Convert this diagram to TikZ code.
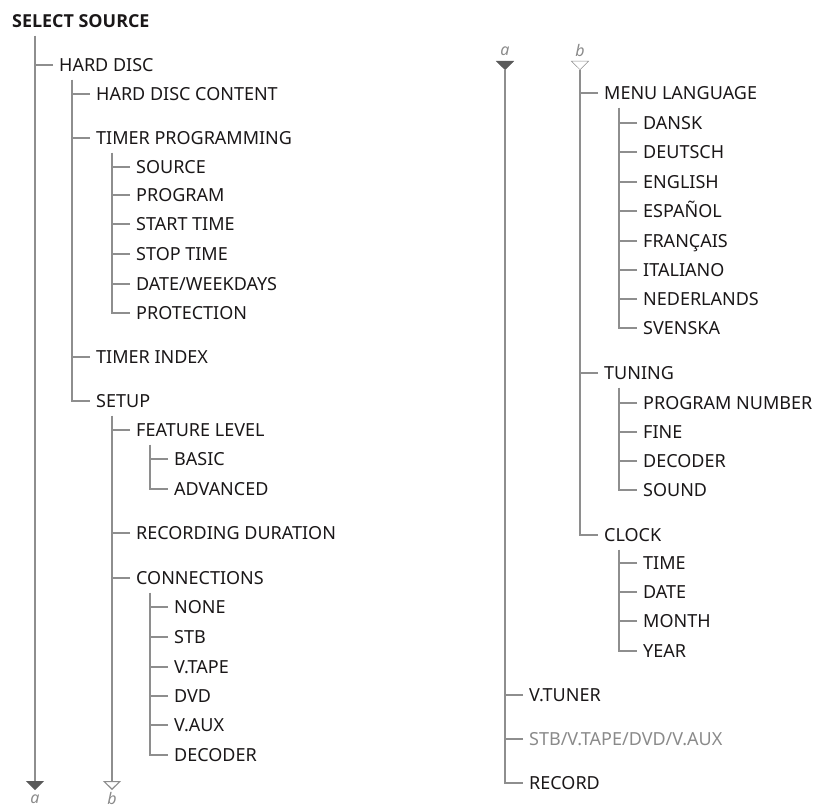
\documentclass[tikz,border=0pt]{standalone}
\usepackage{fontspec}
\setmainfont{Noto Sans}
\newfontfamily\headfont{Open Sans}
\usetikzlibrary{arrows.meta}
\definecolor{ink}{HTML}{1A1718}
\definecolor{wire}{HTML}{8E8E8E}
\definecolor{tipdark}{HTML}{5A5A5A}
\definecolor{dim}{HTML}{8A8A8A}
\tikzset{
  item/.style={anchor=west, inner sep=0pt, text height=13pt, text depth=0pt,
    font=\fontsize{18}{21}\selectfont, text=ink},
  head/.style={item, font=\headfont\fontsize{17.9}{21}\selectfont\bfseries},
  tag/.style={inner sep=0pt, font=\fontsize{16}{18}\selectfont\itshape, text=dim},
  branch/.style={draw=wire, line width=1.1pt},
  fulltip/.style={-{Triangle[width=18pt,length=9pt,color=tipdark]}},
  opentip/.style={-{Triangle[open,width=18pt,length=9pt,color=wire,fill=white]}}
}

\begin{document}
\begin{tikzpicture}[x=1pt,y=-1pt]
\useasboundingbox (0,0) rectangle (837,810);

\node[head] (ss) at (12,21) {SELECT SOURCE};
\node[item] (hd) at (59,65) {HARD DISC};
\node[item] (hdc) at (96,94) {HARD DISC CONTENT};
\node[item] (tp) at (96,138) {TIMER PROGRAMMING};
\node[item] (src) at (136,167) {SOURCE};
\node[item] (prg) at (136,195) {PROGRAM};
\node[item] (start) at (136,224) {START TIME};
\node[item] (stop) at (136,254) {STOP TIME};
\node[item] (dw) at (136,284) {DATE/WEEKDAYS};
\node[item] (prot) at (136,313) {PROTECTION};
\node[item] (ti) at (96,357) {TIMER INDEX};
\node[item] (setup) at (96,401) {SETUP};
\node[item] (fl) at (136,430) {FEATURE LEVEL};
\node[item] (basic) at (174,459) {BASIC};
\node[item] (adv) at (174,489) {ADVANCED};
\node[item] (rd) at (136,533) {RECORDING DURATION};
\node[item] (con) at (136,578) {CONNECTIONS};
\node[item] (none) at (174,607) {NONE};
\node[item] (stb) at (174,637) {STB};
\node[item] (vtape) at (174,667) {V.TAPE};
\node[item] (dvd) at (174,696) {DVD};
\node[item] (vaux) at (174,725) {V.AUX};
\node[item] (dec) at (174,755) {DECODER};
\coordinate (ta) at (35,790);
\coordinate (tb) at (112,790);
\node[tag] (la) at (35,799) {a};
\node[tag] (lb) at (112,798) {b};

\draw[branch,fulltip] ([yshift=-8pt]ss.south -| hd.west) ++(-24pt,0) -- (ta);
\draw[branch] ([xshift=-6pt]hd.west) -- ([xshift=-24pt]hd.west);
\draw[branch] ([yshift=-8pt]hd.south -| hdc.west) ++(-24pt,0) |- ([xshift=-6pt]setup.west);
\draw[branch] ([xshift=-6pt]hdc.west) -- ([xshift=-24pt]hdc.west)
  ([xshift=-6pt]tp.west) -- ([xshift=-24pt]tp.west)
  ([xshift=-6pt]ti.west) -- ([xshift=-24pt]ti.west);
\draw[branch] ([yshift=-8pt]tp.south -| src.west) ++(-24pt,0) |- ([xshift=-6pt]prot.west);
\draw[branch] ([xshift=-6pt]src.west) -- ([xshift=-24pt]src.west)
  ([xshift=-6pt]prg.west) -- ([xshift=-24pt]prg.west)
  ([xshift=-6pt]start.west) -- ([xshift=-24pt]start.west)
  ([xshift=-6pt]stop.west) -- ([xshift=-24pt]stop.west)
  ([xshift=-6pt]dw.west) -- ([xshift=-24pt]dw.west);
\draw[branch,opentip] ([yshift=-8pt]setup.south -| fl.west) ++(-24pt,0) -- (tb);
\draw[branch] ([xshift=-6pt]fl.west) -- ([xshift=-24pt]fl.west)
  ([xshift=-6pt]rd.west) -- ([xshift=-24pt]rd.west)
  ([xshift=-6pt]con.west) -- ([xshift=-24pt]con.west);
\draw[branch] ([yshift=-8pt]fl.south -| basic.west) ++(-24pt,0) |- ([xshift=-6pt]adv.west);
\draw[branch] ([xshift=-6pt]basic.west) -- ([xshift=-24pt]basic.west);
\draw[branch] ([yshift=-8pt]con.south -| none.west) ++(-24pt,0) |- ([xshift=-6pt]dec.west);
\draw[branch] ([xshift=-6pt]none.west) -- ([xshift=-24pt]none.west)
  ([xshift=-6pt]stb.west) -- ([xshift=-24pt]stb.west)
  ([xshift=-6pt]vtape.west) -- ([xshift=-24pt]vtape.west)
  ([xshift=-6pt]dvd.west) -- ([xshift=-24pt]dvd.west)
  ([xshift=-6pt]vaux.west) -- ([xshift=-24pt]vaux.west);

\node[tag] (ra) at (505,51) {a};
\node[tag] (rb) at (580,51) {b};
\coordinate (ra1) at (505,61);
\coordinate (ra2) at (505,70);
\coordinate (rb1) at (580,61);
\coordinate (rb2) at (580,70);
\node[item] (ml) at (604,93) {MENU LANGUAGE};
\node[item] (dansk) at (643,123) {DANSK};
\node[item] (deutsch) at (643,152) {DEUTSCH};
\node[item] (english) at (643,182) {ENGLISH};
\node[item] (espanol) at (643,211) {ESPAÑOL};
\node[item] (francais) at (643,241) {FRANÇAIS};
\node[item] (italiano) at (643,270) {ITALIANO};
\node[item] (neder) at (643,299) {NEDERLANDS};
\node[item] (svenska) at (643,328) {SVENSKA};
\node[item] (tun) at (604,373) {TUNING};
\node[item] (pn) at (643,403) {PROGRAM NUMBER};
\node[item] (fine) at (643,432) {FINE};
\node[item] (tdec) at (643,461) {DECODER};
\node[item] (sound) at (643,490) {SOUND};
\node[item] (clock) at (604,535) {CLOCK};
\node[item] (time) at (643,563) {TIME};
\node[item] (date) at (643,592) {DATE};
\node[item] (month) at (643,621) {MONTH};
\node[item] (year) at (643,651) {YEAR};
\node[item] (vt) at (529,695) {V.TUNER};
\node[item, text=dim] (stbv) at (529,739) {STB/V.TAPE/DVD/V.AUX};
\node[item] (rec) at (529,783) {RECORD};

\draw[fulltip] (ra1) -- (ra2);
\draw[opentip] (rb1) -- (rb2);
\draw[branch] (ra2) |- ([xshift=-6pt]rec.west);
\draw[branch] ([xshift=-6pt]vt.west) -- ([xshift=-24pt]vt.west)
  ([xshift=-6pt]stbv.west) -- ([xshift=-24pt]stbv.west);
\draw[branch] (rb2) |- ([xshift=-6pt]clock.west);
\draw[branch] ([xshift=-6pt]ml.west) -- ([xshift=-24pt]ml.west)
  ([xshift=-6pt]tun.west) -- ([xshift=-24pt]tun.west);
\draw[branch] ([yshift=-8pt]ml.south -| dansk.west) ++(-24pt,0) |- ([xshift=-6pt]svenska.west);
\draw[branch] ([xshift=-6pt]dansk.west) -- ([xshift=-24pt]dansk.west)
  ([xshift=-6pt]deutsch.west) -- ([xshift=-24pt]deutsch.west)
  ([xshift=-6pt]english.west) -- ([xshift=-24pt]english.west)
  ([xshift=-6pt]espanol.west) -- ([xshift=-24pt]espanol.west)
  ([xshift=-6pt]francais.west) -- ([xshift=-24pt]francais.west)
  ([xshift=-6pt]italiano.west) -- ([xshift=-24pt]italiano.west)
  ([xshift=-6pt]neder.west) -- ([xshift=-24pt]neder.west);
\draw[branch] ([yshift=-8pt]tun.south -| pn.west) ++(-24pt,0) |- ([xshift=-6pt]sound.west);
\draw[branch] ([xshift=-6pt]pn.west) -- ([xshift=-24pt]pn.west)
  ([xshift=-6pt]fine.west) -- ([xshift=-24pt]fine.west)
  ([xshift=-6pt]tdec.west) -- ([xshift=-24pt]tdec.west);
\draw[branch] ([yshift=-8pt]clock.south -| time.west) ++(-24pt,0) |- ([xshift=-6pt]year.west);
\draw[branch] ([xshift=-6pt]time.west) -- ([xshift=-24pt]time.west)
  ([xshift=-6pt]date.west) -- ([xshift=-24pt]date.west)
  ([xshift=-6pt]month.west) -- ([xshift=-24pt]month.west);
\end{tikzpicture}
\end{document}
